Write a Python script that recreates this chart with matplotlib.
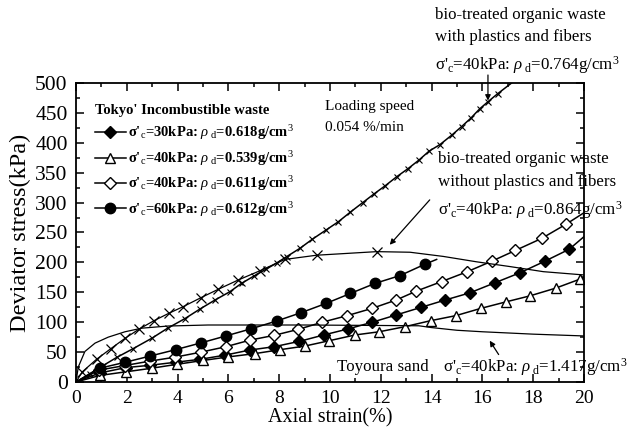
import matplotlib
matplotlib.use("Agg")
import matplotlib.pyplot as plt
from matplotlib.ticker import MultipleLocator

plt.rcParams["font.family"] = ["Liberation Serif", "DejaVu Serif"]
plt.rcParams["mathtext.fontset"] = "custom"
plt.rcParams["mathtext.rm"] = "Liberation Serif"
plt.rcParams["mathtext.it"] = "Liberation Serif:italic"
plt.rcParams["mathtext.bf"] = "Liberation Serif:bold"

# ---- Tokyo incombustible waste (markers) ----
fd_x = [0, 0.93, 1.95, 2.93, 3.92, 4.9, 5.88, 6.85, 7.8, 8.8, 9.75, 10.7, 11.67,
        12.6, 13.6, 14.53, 15.5, 16.5, 17.5, 18.46, 19.42, 20]
fd_y = [0, 15, 24, 28, 33, 38, 45, 53.5, 59, 68, 78.6, 88.6, 100, 112, 125, 137,
        149, 166, 183, 202, 222, 243]

tri_x = [0, 0.95, 1.96, 2.98, 3.96, 5.0, 6.0, 7.05, 8.03, 9.0, 9.97, 10.98, 11.94,
         12.95, 13.96, 14.96, 15.93, 16.93, 17.87, 18.89, 19.84, 20]
tri_y = [0, 11, 17, 23, 29.5, 36, 42, 47.5, 54, 60, 69, 78.6, 84, 92.5, 102.5, 111,
         123, 134, 144, 157, 172, 175]

od_x = [0, 0.92, 1.92, 2.92, 3.9, 4.93, 5.9, 6.85, 7.8, 8.75, 9.7, 10.68, 11.65,
        12.6, 13.4, 14.4, 15.38, 16.37, 17.3, 18.33, 19.3, 20]
od_y = [0, 20, 27.5, 35, 41.5, 50, 59, 70, 78, 88, 100, 111, 123, 137, 152, 168,
        184, 202, 220, 240, 264, 283]

fc_x = [0, 0.93, 1.94, 2.93, 3.92, 4.93, 5.9, 6.9, 7.9, 8.87, 9.85, 10.8, 11.78,
        12.76, 13.74, 14.2]
fc_y = [0, 23, 33, 43.5, 54, 65.5, 77, 89, 102, 116, 131.5, 148, 165, 178, 197, 205]

legend_labels = [
    r"σ'$_{\rm c}$=30kPa: $\rho_{\ \rm d}$=0.618g/cm$^3$",
    r"σ'$_{\rm c}$=40kPa: $\rho_{\ \rm d}$=0.539g/cm$^3$",
    r"σ'$_{\rm c}$=40kPa: $\rho_{\ \rm d}$=0.611g/cm$^3$",
    r"σ'$_{\rm c}$=60kPa: $\rho_{\ \rm d}$=0.612g/cm$^3$",
]

# ---- bio-treated organic waste with plastics and fibers ----
wp_x = [0, 0.55, 1.05, 1.6, 2.26, 2.98, 3.61, 4.29, 4.88, 5.47, 6.06, 6.52, 7.0,
        7.5, 7.9, 8.29, 8.82, 9.3, 9.84, 10.33, 10.8, 11.29, 11.75, 12.17, 12.62,
        13.08, 13.5, 13.9, 14.33, 14.8, 15.18, 15.54, 15.9, 16.23, 16.6, 17.15]
wp_y = [0, 14, 27, 41, 56, 73, 90, 106, 122, 137, 151, 165, 177, 189, 199, 209.5,
        223.6, 238.6, 254, 268, 284, 300, 315, 328, 343, 357, 371, 386, 397, 413,
        427, 441, 457, 469, 482, 500]

# ---- bio-treated organic waste without plastics and fibers ----
np_x = [0, 0.25, 0.81, 1.38, 1.93, 2.49, 3.07, 3.66, 4.22, 4.92, 5.6, 6.39, 7.24,
        8.23, 9.47, 11.84, 13.15, 14.46, 15.77, 17.09, 18.4, 20]
np_y = [0, 17, 38, 56, 73, 88.6, 102.5, 115, 126, 141, 155, 170.6, 186, 205, 212,
        218, 217, 210, 201, 193, 184.5, 179]
np_nmark = 16  # markers only on the first points, tail is a plain line

# ---- Toyoura sand ----
ts_x = [0, 0.09, 0.35, 0.75, 1.27, 1.93, 2.59, 3.63, 5.2, 6.65, 9.0, 12.0, 13.5,
        14.0, 15.0, 16.0, 17.0, 18.0, 19.0, 20]
ts_y = [0, 25, 51, 65, 75, 84, 90, 93.6, 95.3, 95.3, 95.3, 94.5, 94, 91, 86.5,
        84, 82, 80, 78.5, 77]

fig = plt.figure(figsize=(6.29, 4.33), dpi=100)
ax = fig.add_axes([0.1208, 0.1178, 0.8076, 0.6905])

lw = 1.1
h1, = ax.plot(fd_x, fd_y, "-", color="k", lw=lw, marker="D", ms=6, mfc="k",
              markevery=slice(1, -1))
h2, = ax.plot(tri_x, tri_y, "-", color="k", lw=lw, marker="^", ms=7.5, mfc="white",
              mew=1, markevery=slice(1, -1))
h3, = ax.plot(od_x, od_y, "-", color="k", lw=lw, marker="D", ms=6.5, mfc="white",
              mew=1, markevery=slice(1, -1))
h4, = ax.plot(fc_x, fc_y, "-", color="k", lw=lw, marker="o", ms=7.5, mfc="k",
              markevery=slice(1, -1))

ax.plot(wp_x, wp_y, "-", color="k", lw=lw, marker="x", ms=4, mew=0.8,
        markevery=slice(1, -1))
ax.plot(np_x, np_y, "-", color="k", lw=0.9, marker="x", ms=7, mew=0.9,
        markevery=list(range(1, np_nmark)))
ax.plot(ts_x, ts_y, "-", color="k", lw=0.9)

ax.set_xlim(0, 20)
ax.set_ylim(0, 500)
ax.xaxis.set_major_locator(MultipleLocator(2))
ax.xaxis.set_minor_locator(MultipleLocator(1))
ax.yaxis.set_major_locator(MultipleLocator(50))
ax.yaxis.set_minor_locator(MultipleLocator(25))
ax.tick_params(which="both", direction="in", top=True, right=True, width=1.1)
ax.tick_params(which="major", length=6, pad=6)
ax.tick_params(which="minor", length=3)
ax.tick_params(axis="x", labelsize=14)
ax.tick_params(axis="y", labelsize=15.5)
for sp in ax.spines.values():
    sp.set_linewidth(1.3)

ax.set_xlabel("Axial strain(%)", fontsize=14.5, labelpad=1)
ax.set_ylabel("Deviator stress(kPa)", fontsize=17.5, labelpad=3)

leg = ax.legend([h1, h2, h3, h4], legend_labels, loc="upper left",
                bbox_to_anchor=(0.02, 0.96), frameon=False,
                prop={"weight": "bold", "size": 10.5},
                title="Tokyo' Incombustible waste",
                title_fontproperties={"weight": "bold", "size": 10.5},
                handlelength=2.1, handletextpad=0.2, labelspacing=0.45,
                borderaxespad=0.2)
leg._legend_box.align = "left"

txt = dict(fontsize=11, ha="left", va="center")
ax.text(9.8, 460, "Loading speed", **txt)
ax.text(9.8, 426, "0.054 %/min", **txt)

big = dict(fontsize=12.2, ha="left", va="center", clip_on=False)
ax.text(14.13, 614, "bio-treated organic waste", **big)
ax.text(14.13, 577, "with plastics and fibers", **big)
ax.text(14.13, 530, r"σ'$_{\rm c}$=40kPa: $\rho_{\ \rm d}$=0.764g/cm$^3$", **big)
ax.annotate("", xy=(16.22, 466), xytext=(16.22, 518), annotation_clip=False,
            arrowprops=dict(arrowstyle="-|>", color="k", lw=0.9,
                            mutation_scale=8))

ax.text(14.25, 373, "bio-treated organic waste", **big)
ax.text(14.25, 334, "without plastics and fibers", **big)
ax.text(14.25, 288, r"σ'$_{\rm c}$=40kPa: $\rho_{\ \rm d}$=0.864g/cm$^3$", **big)
ax.annotate("", xy=(12.28, 226), xytext=(14.0, 308),
            arrowprops=dict(arrowstyle="-|>", color="k", lw=0.9,
                            mutation_scale=8))

ax.text(10.28, 25, "Toyoura sand", **big)
ax.text(14.45, 25, r"σ'$_{\rm c}$=40kPa: $\rho_{\ \rm d}$=1.417g/cm$^3$", **big)
ax.annotate("", xy=(16.23, 73), xytext=(16.7, 42),
            arrowprops=dict(arrowstyle="-|>", color="k", lw=0.9,
                            mutation_scale=8))

fig.savefig("out.png", dpi=100)
